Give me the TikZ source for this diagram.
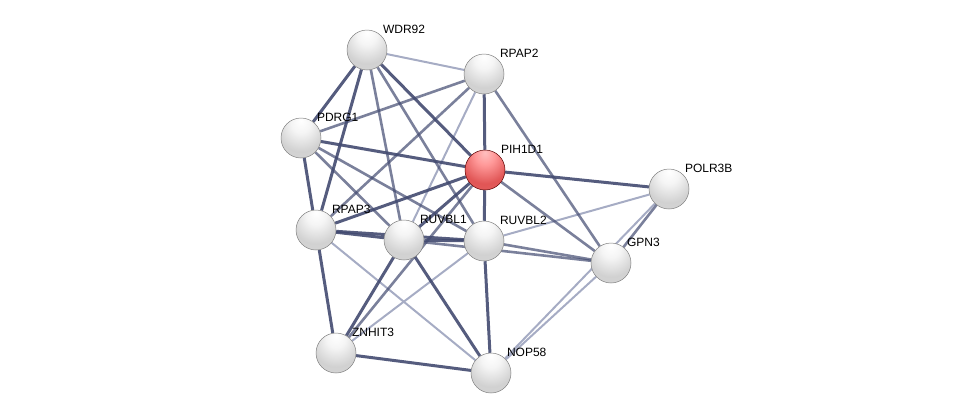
\documentclass[tikz,border=0pt]{standalone}
\usepackage{fontspec}
\setmainfont{Liberation Sans}
\usetikzlibrary{backgrounds}
\definecolor{edgedark}{RGB}{66,74,112}
\definecolor{edgelight}{RGB}{166,172,196}
\pgfdeclareradialshading{greyball}{\pgfpoint{0bp}{22bp}}{color(0bp)=(white); color(12bp)=(white!96!black); color(30bp)=(white!82!black); color(50bp)=(white!85!black); color(62bp)=(white!68!black); color(72bp)=(white!45!black)}
\pgfdeclareradialshading{redball}{\pgfpoint{0bp}{22bp}}{color(0bp)=(red!25!white); color(12bp)=(red!40!white); color(30bp)=(red!62!white!88!black); color(50bp)=(red!55!white!90!black); color(62bp)=(red!60!black!80!white); color(72bp)=(red!45!black)}
\begin{document}
\begin{tikzpicture}
[
    x=1pt, y=-1pt,
    protein/.style={circle, minimum size=40pt, inner sep=0pt, shading=greyball, draw=white!50!black, line width=0.5pt},
    query/.style={protein, shading=redball, draw=red!35!black},
    tag/.style={font=\fontsize{12}{14}\selectfont, inner sep=1.5pt},
    strong/.style={draw=edgedark, line width=3pt, opacity=0.9},
    medium/.style={draw=edgedark, line width=2.6pt, opacity=0.7},
    weak/.style={draw=edgelight, line width=2pt}
]
    \useasboundingbox (0,0) rectangle (975,418);

    \node [protein, label={[tag]45:WDR92}]  (wdr92)  at (367,50)  {};
    \node [protein, label={[tag]45:RPAP2}]  (rpap2)  at (484,74)  {};
    \node [protein, label={[tag]45:PDRG1}]  (pdrg1)  at (301,138) {};
    \node [query,   label={[tag]45:PIH1D1}] (pih1d1) at (485,170) {};
    \node [protein, label={[tag]45:POLR3B}] (polr3b) at (669,189) {};
    \node [protein, label={[tag]45:RPAP3}]  (rpap3)  at (316,230) {};
    \node [protein, label={[tag]45:RUVBL1}] (ruvbl1) at (404,240) {};
    \node [protein, label={[tag]45:RUVBL2}] (ruvbl2) at (484,241) {};
    \node [protein, label={[tag]45:GPN3}]   (gpn3)   at (611,263) {};
    \node [protein, label={[tag]45:ZNHIT3}] (znhit3) at (336,353) {};
    \node [protein, label={[tag]45:NOP58}]  (nop58)  at (491,373) {};

    \begin{scope}[on background layer]
        % weak evidence
        \foreach \a/\b in {wdr92/rpap2, rpap2/ruvbl1, polr3b/ruvbl2, polr3b/nop58,
                           rpap3/nop58, ruvbl2/znhit3, gpn3/nop58}
            \draw [weak] (\a) -- (\b);
        % medium evidence
        \foreach \a/\b in {wdr92/ruvbl1, wdr92/ruvbl2, rpap2/pdrg1, rpap2/rpap3,
                           rpap2/gpn3, pdrg1/ruvbl1, pdrg1/ruvbl2, pih1d1/gpn3,
                           pih1d1/znhit3, polr3b/gpn3, ruvbl1/gpn3, ruvbl2/gpn3}
            \draw [medium] (\a) -- (\b);
        % strong evidence
        \foreach \a/\b in {wdr92/pdrg1, wdr92/rpap3, wdr92/pih1d1, rpap2/pih1d1,
                           pdrg1/pih1d1, pdrg1/rpap3, pih1d1/polr3b, pih1d1/rpap3,
                           pih1d1/ruvbl1, pih1d1/ruvbl2, rpap3/ruvbl1, rpap3/ruvbl2,
                           rpap3/znhit3, ruvbl1/ruvbl2, ruvbl1/znhit3, ruvbl1/nop58,
                           ruvbl2/nop58, znhit3/nop58}
            \draw [strong] (\a) -- (\b);
    \end{scope}
\end{tikzpicture}
\end{document}
